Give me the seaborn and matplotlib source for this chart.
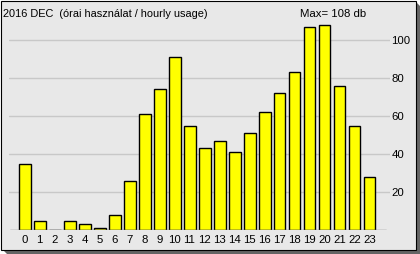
import matplotlib
matplotlib.use("Agg")
import matplotlib.pyplot as plt
import seaborn as sns
import pandas as pd
from matplotlib.patches import Rectangle, Polygon

hours = [str(h) for h in range(24)]
usage = [35, 5, 0, 5, 3, 1, 8, 26, 61, 74, 91, 55, 43, 47, 41, 51, 62, 72, 83, 107, 108, 76, 55, 28]
y_ticks = [20, 40, 60, 80, 100]
title_text = "2016 DEC  (órai használat / hourly usage)"
max_text = "Max= 108 db"

sns.set_theme(style="white")
plt.rcParams['font.family'] = ['Liberation Sans', 'DejaVu Sans']

W, H = 420, 254
fig = plt.figure(figsize=(W / 100, H / 100), dpi=100)
fig.patch.set_facecolor("white")

def fx(px):
    return px / W

def fy(py):
    return 1 - py / H

# shadow
shadow = Polygon([(fx(3), fy(250)), (fx(7), fy(254)), (fx(420), fy(254)), (fx(420), fy(6)),
                  (fx(416), fy(2)), (fx(416), fy(250))],
                 closed=True, transform=fig.transFigure, facecolor="#646464", edgecolor="none",
                 zorder=-2)
fig.add_artist(shadow)
panel = Rectangle((fx(1), fy(250)), fx(415), 249 / H, transform=fig.transFigure,
                  facecolor="#e8e8e8", edgecolor="black", linewidth=0.8, zorder=-1)
fig.add_artist(panel)

ax_left, ax_right = 9, 390
ax_bottom, ax_top = 230, 21
ax = fig.add_axes([fx(ax_left), fy(ax_bottom), fx(ax_right - ax_left), (ax_bottom - ax_top) / H])
ax.set_facecolor("none")
ax.set_zorder(1)

df = pd.DataFrame({"hour": hours, "usage": usage})
sns.barplot(data=df, x="hour", y="usage", color="#ffff00", edgecolor="black",
            linewidth=1.0, width=0.8, saturation=1, ax=ax, zorder=3)

a = -(24.5 - ax_left) / 15
ax.set_xlim(a, a + (ax_right - ax_left) / 15)
ax.set_ylim(0, (ax_bottom - ax_top) / 1.9)

for t in y_ticks:
    ax.axhline(t, color="#c8c8c8", linewidth=1.0, zorder=1)
span = ax_right - ax_left
ax.axhline(0, xmin=(10 - ax_left) / span, xmax=(386 - ax_left) / span, color="#808080",
           linewidth=1.0, zorder=4)

for s in ax.spines.values():
    s.set_visible(False)
ax.yaxis.tick_right()
ax.set_yticks(y_ticks)
ax.set_yticklabels([str(t) for t in y_ticks], fontsize=8.2, color="black")
ax.tick_params(axis="y", length=0, pad=1)
ax.tick_params(axis="x", length=0, pad=3.5, labelsize=8.2, labelcolor="black")
ax.set_xlabel("")
ax.set_ylabel("")
ax.grid(False)

fig.text(fx(3), fy(14), title_text, fontsize=7.9, ha="left", va="center", color="black")
fig.text(fx(300), fy(14), max_text, fontsize=8.2, ha="left", va="center", color="black")

fig.savefig("out.png", dpi=100)
